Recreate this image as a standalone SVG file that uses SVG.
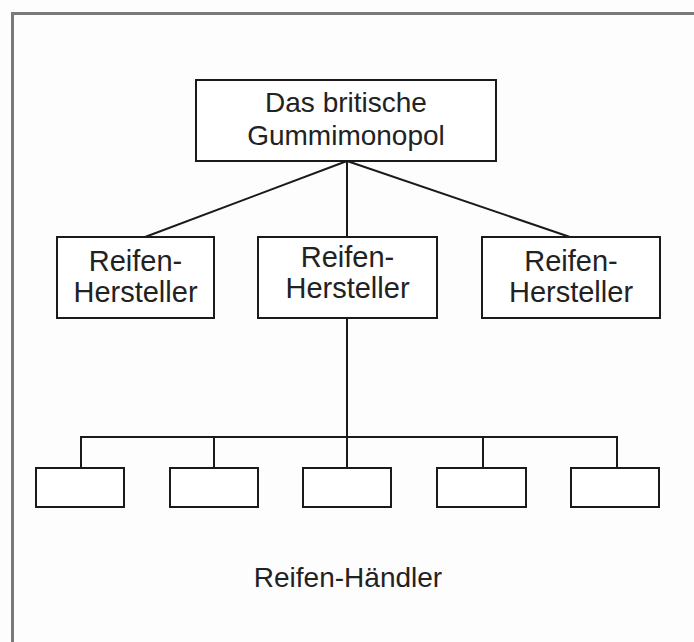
<svg xmlns="http://www.w3.org/2000/svg" width="694" height="642" viewBox="0 0 694 642">
<style>
.box{fill:#ffffff;stroke:#1a1a1a;stroke-width:2}
.lbl{font-family:"Liberation Sans",Arial,sans-serif;font-size:28px;fill:#222;text-anchor:middle}
.mid{font-size:29px}
.conn{stroke:#1a1a1a;stroke-width:2;fill:none}
</style>
<rect x="0" y="0" width="694" height="642" fill="#fdfdfd"/>
<rect x="12.5" y="13.5" width="700" height="650" fill="none" stroke="#7a7a7a" stroke-width="3"/>
<g id="connectors">
<line class="conn" x1="347" y1="161" x2="145" y2="237"/>
<line class="conn" x1="347" y1="161" x2="570" y2="237"/>
<line class="conn" x1="347" y1="161" x2="347" y2="237" stroke="#555" stroke-width="2.5"/>
<line class="conn" x1="347" y1="318" x2="347" y2="437" stroke="#444" stroke-width="2.5"/>
<polyline class="conn" points="81,468 81,437 617,437 617,468"/>
<line class="conn" x1="214" y1="437" x2="214" y2="468"/>
<line class="conn" x1="347" y1="437" x2="347" y2="468" stroke="#444" stroke-width="2.5"/>
<line class="conn" x1="483" y1="437" x2="483" y2="468"/>
</g>
<g id="top">
<rect class="box" x="196" y="80" width="300" height="81"/>
<text class="lbl" x="346" y="112">Das britische</text>
<text class="lbl" x="346" y="145">Gummimonopol</text>
</g>
<g id="mfr1">
<rect class="box" x="57" y="237" width="157" height="81"/>
<text class="lbl mid" x="135.5" y="271">Reifen-</text>
<text class="lbl mid" x="135.5" y="302">Hersteller</text>
</g>
<g id="mfr2">
<rect class="box" x="258" y="237" width="179" height="81"/>
<text class="lbl mid" x="347.5" y="267">Reifen-</text>
<text class="lbl mid" x="347.5" y="298">Hersteller</text>
</g>
<g id="mfr3">
<rect class="box" x="482" y="237" width="178" height="81"/>
<text class="lbl mid" x="571" y="271">Reifen-</text>
<text class="lbl mid" x="571" y="302">Hersteller</text>
</g>
<g id="d1"><rect class="box" x="36" y="468" width="88" height="39"/></g>
<g id="d2"><rect class="box" x="170" y="468" width="88" height="39"/></g>
<g id="d3"><rect class="box" x="303" y="468" width="88" height="39"/></g>
<g id="d4"><rect class="box" x="437" y="468" width="89" height="39"/></g>
<g id="d5"><rect class="box" x="571" y="468" width="88" height="39"/></g>
<g id="caption">
<text class="lbl" x="348" y="587">Reifen-Händler</text>
</g>
</svg>
